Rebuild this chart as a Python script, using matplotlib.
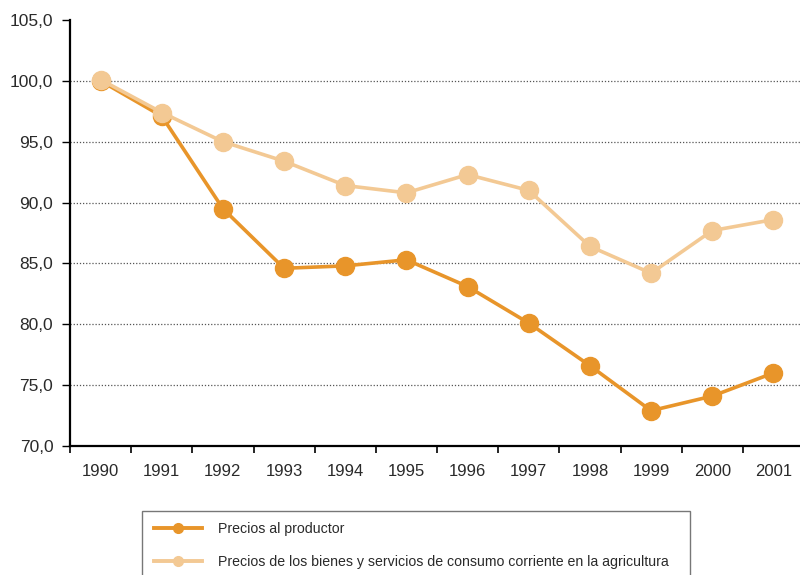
import matplotlib.pyplot as plt
import matplotlib.ticker as mticker
from matplotlib.patches import Rectangle

plt.rcParams['font.family'] = ['Liberation Sans', 'DejaVu Sans']

years = [1990, 1991, 1992, 1993, 1994, 1995, 1996, 1997, 1998, 1999, 2000, 2001]
productor = [100.0, 97.1, 89.5, 84.6, 84.8, 85.3, 83.1, 80.1, 76.6, 72.9, 74.1, 76.0]
insumos = [100.1, 97.4, 95.0, 93.4, 91.4, 90.8, 92.3, 91.0, 86.4, 84.2, 87.7, 88.6]
labels = ["Precios al productor",
          "Precios de los bienes y servicios de consumo corriente en la agricultura"]

c_dark = "#E8952A"
c_light = "#F3C994"
c_text = "#2a2a2a"

fig = plt.figure(figsize=(8, 5.75), dpi=100)
ax = fig.add_axes([70 / 800, 1 - 446 / 575, 734 / 800, 426 / 575])

ax.plot(years, productor, color=c_dark, lw=2.6, marker='o', ms=13, zorder=3, label=labels[0])
ax.plot(years, insumos, color=c_light, lw=2.6, marker='o', ms=13, zorder=4, label=labels[1])

ax.set_ylim(70, 105)
ax.set_xlim(1989.5, 2001.5)
yt = [70, 75, 80, 85, 90, 95, 100, 105]
ax.set_yticks(yt)
ax.set_yticklabels([f"{v:.1f}".replace('.', ',') for v in yt])
for v in yt[1:-1]:
    ax.axhline(v, color='#555555', lw=0.9, ls=(0, (1, 1.5)), zorder=1)

ax.set_xticks(years)
ax.set_xticklabels([str(y) for y in years])
ax.xaxis.set_minor_locator(mticker.FixedLocator([y - 0.5 for y in years] + [2001.5]))
ax.tick_params(axis='x', which='major', length=0, pad=13, labelsize=12, labelcolor=c_text)
ax.tick_params(axis='x', which='minor', length=5, width=1.2, direction='out')
ax.tick_params(axis='y', length=6, width=1, direction='out', labelsize=12.5,
               pad=6, labelcolor=c_text)

for s in ['top', 'right']:
    ax.spines[s].set_visible(False)
ax.spines['left'].set_linewidth(1.6)
ax.spines['bottom'].set_linewidth(1.6)

# legend box (extends past the bottom edge)
fig.patches.append(Rectangle((142 / 800, -0.05), (690 - 142) / 800, 0.05 + 1 - 511 / 575,
                             transform=fig.transFigure, facecolor='white',
                             edgecolor='#777777', lw=1.0))

handles = [plt.Line2D([], [], color=c_dark, lw=2.8, marker='o', ms=7),
           plt.Line2D([], [], color=c_light, lw=2.8, marker='o', ms=7)]
leg = fig.legend(handles, labels, loc='upper left', bbox_to_anchor=(154 / 800, 1 - 521.5 / 575),
                 borderaxespad=0, fontsize=10.2, labelspacing=1.35, handlelength=3.4,
                 handletextpad=1.13, borderpad=0, frameon=False)
for t in leg.get_texts():
    t.set_color(c_text)

fig.savefig("out.png", dpi=100)
